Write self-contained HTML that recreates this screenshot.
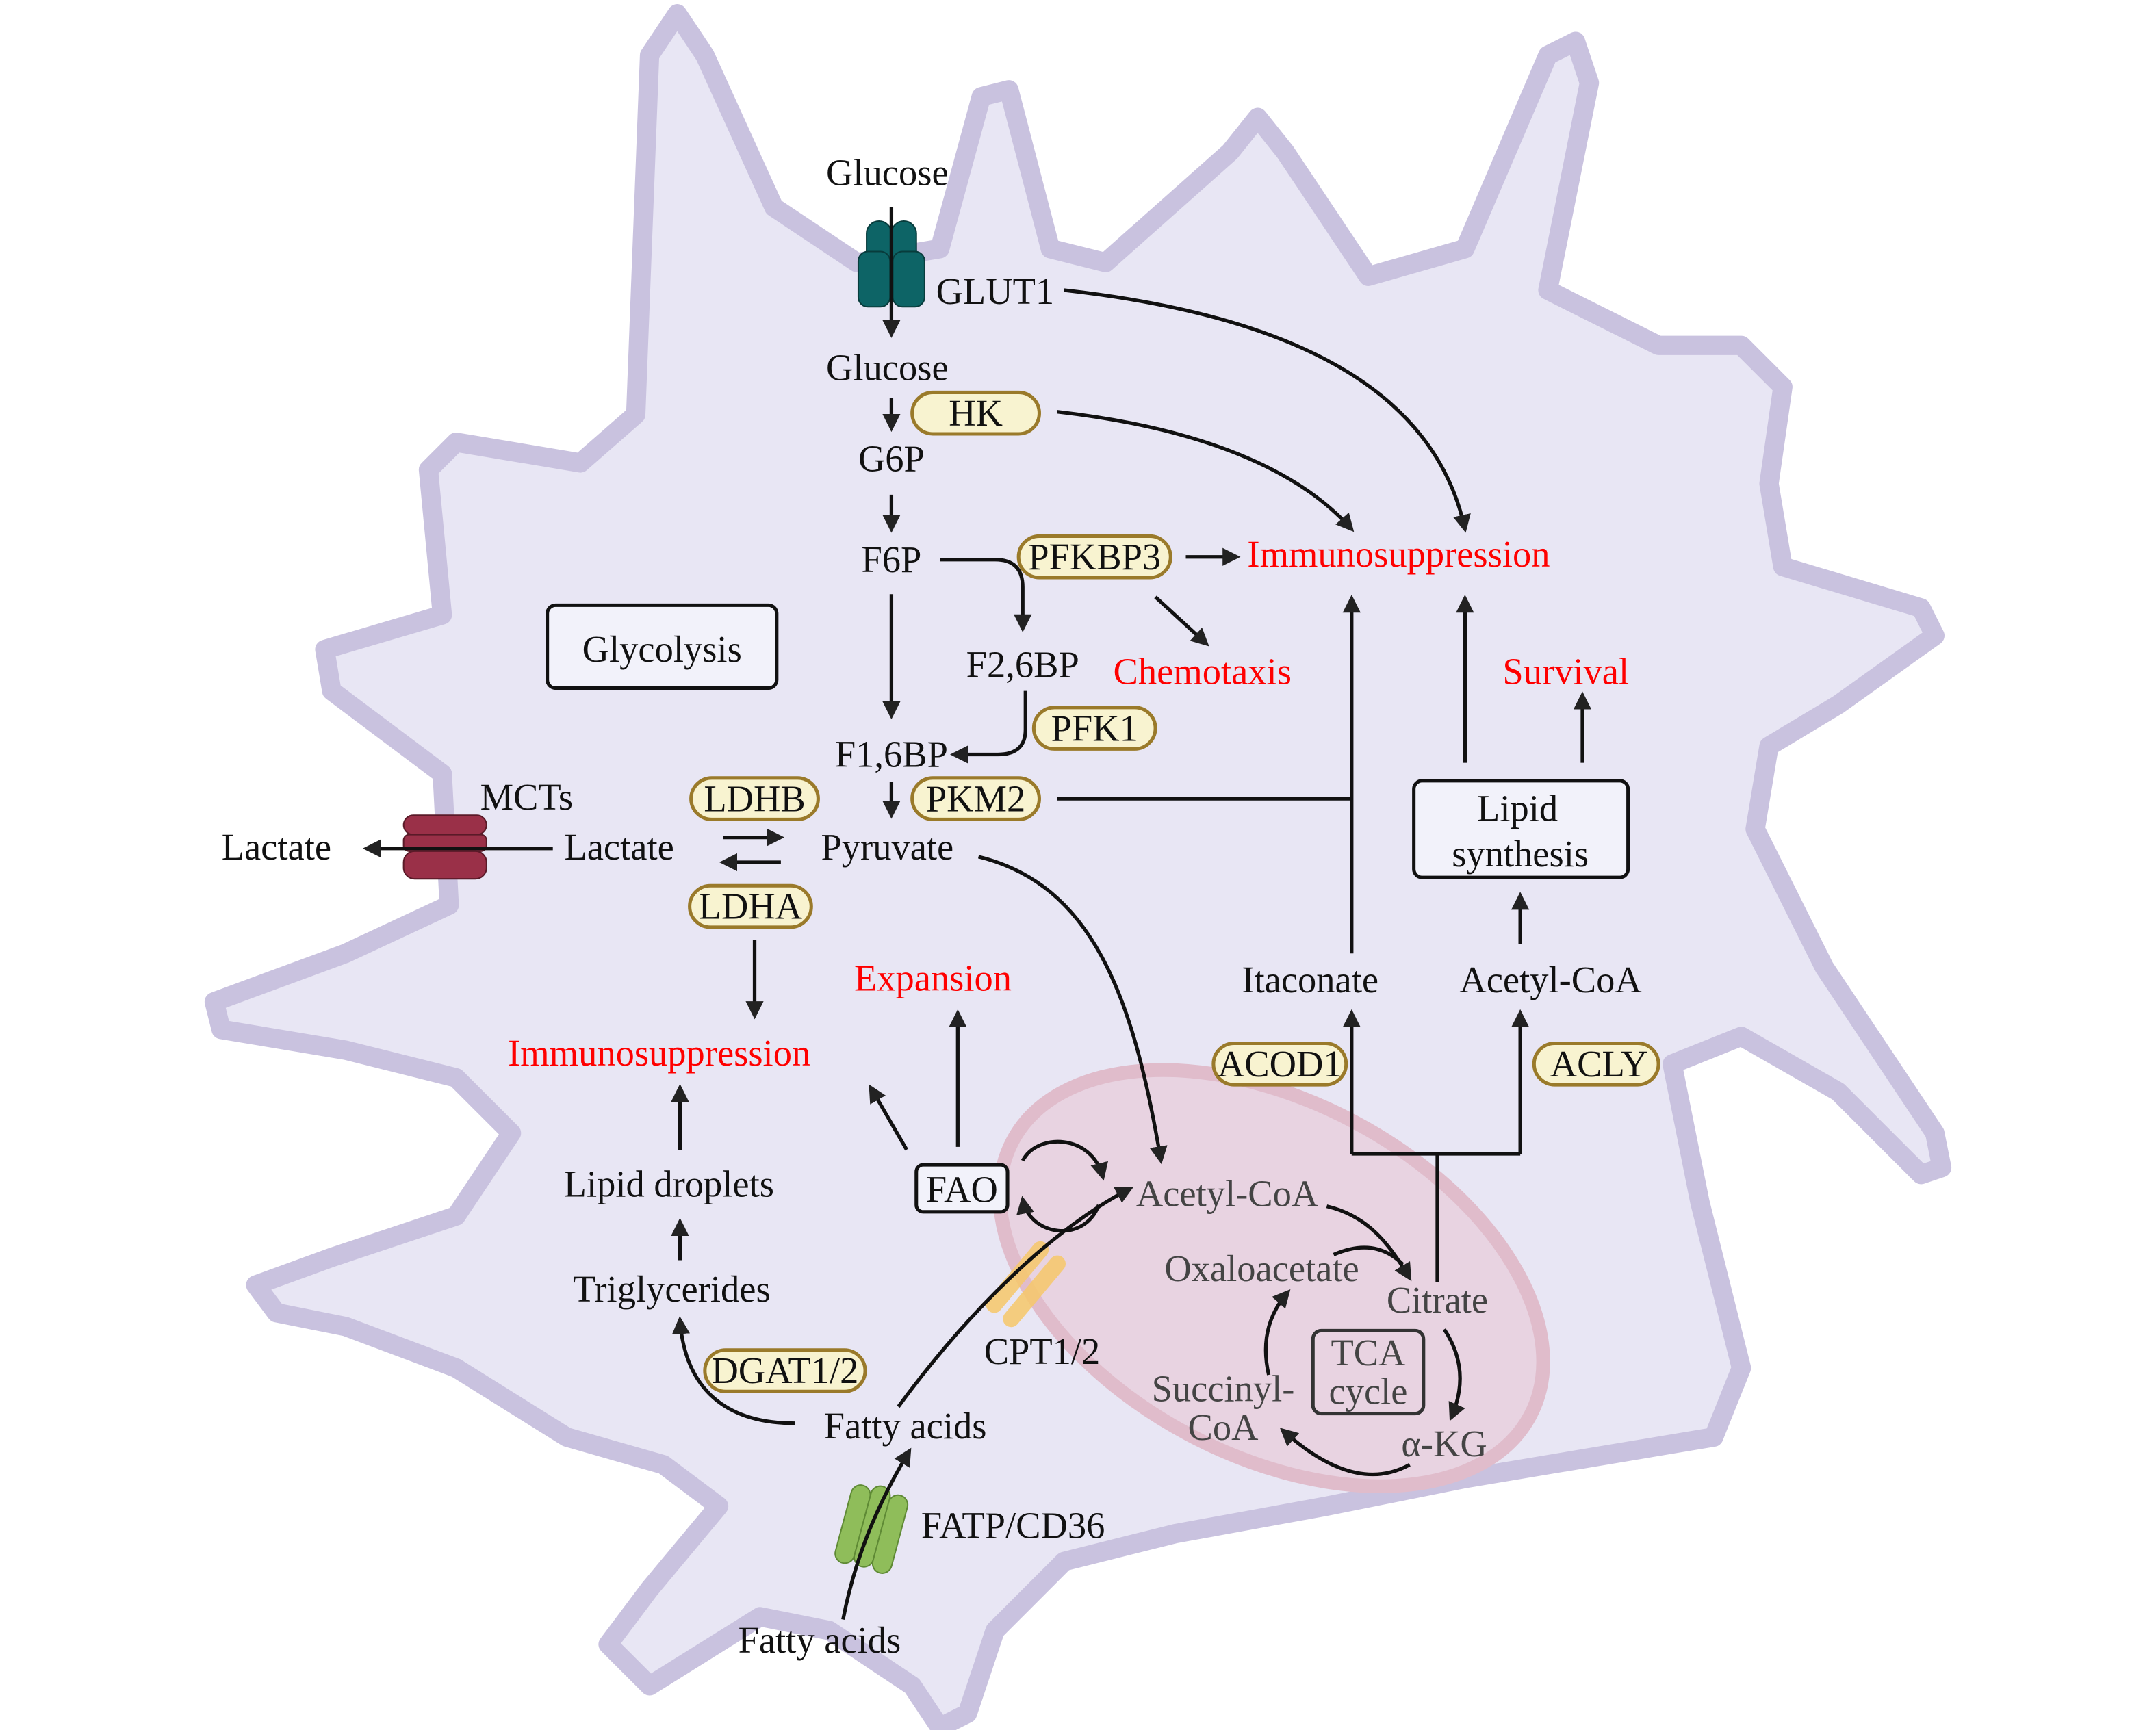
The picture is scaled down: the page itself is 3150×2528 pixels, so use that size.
<!DOCTYPE html>
<html><head><meta charset="utf-8"><style>
html,body{margin:0;padding:0;background:#fff}
svg{display:block}
text{font-family:"Liberation Serif",serif;font-size:27px;fill:#111}
.r{fill:#f00}
.m{fill:#444}
.c{text-anchor:middle}
</style></head><body>
<svg width="3150" height="2528" viewBox="0 0 1560 1252" xmlns="http://www.w3.org/2000/svg">
<defs>
<marker id="a" viewBox="0 0 10 10" refX="8" refY="5" markerWidth="5" markerHeight="5" orient="auto"><path d="M0,0 L10,5 L0,10 z" fill="#222"/></marker>
</defs>
<path d="M155,725 L250,690 L325,655 L320,560 L240,500 L235,470 L320,445 L310,340 L330,320 L420,335 L460,300 L470,40 L490,10 L510,40 L560,150 L620,190 L680,180 L710,70 L730,65 L760,180 L800,190 L890,110 L910,85 L930,110 L990,200 L1060,180 L1120,40 L1140,30 L1150,60 L1120,210 L1200,250 L1260,250 L1290,280 L1280,350 L1290,410 L1390,440 L1400,460 L1330,510 L1280,540 L1270,600 L1320,700 L1400,820 L1405,845 L1390,850 L1330,790 L1260,750 L1210,770 L1230,870 L1260,990 L1240,1040 L1180,1050 L1060,1070 L960,1090 L850,1110 L770,1130 L720,1180 L700,1240 L680,1250 L660,1220 L600,1180 L550,1170 L470,1220 L440,1190 L470,1150 L520,1090 L480,1060 L410,1040 L330,990 L250,960 L200,950 L185,930 L240,910 L330,880 L370,820 L330,780 L250,760 L160,745 Z" fill="#e8e6f4" stroke="#c9c2df" stroke-width="14" stroke-linejoin="round"/>
<ellipse cx="920" cy="925" rx="212" ry="128" transform="rotate(28 920 925)" fill="#e8cbd8" fill-opacity="0.7" stroke="#e0bccb" stroke-width="10"/>

<!-- transporters -->
<g fill="#0d6466" stroke="#083c3c" stroke-width="1">
<rect x="627" y="160" width="18" height="38" rx="9"/><rect x="645" y="160" width="18" height="38" rx="9"/>
<rect x="621" y="182" width="23" height="40" rx="7"/><rect x="646" y="182" width="23" height="40" rx="7"/>
</g>
<g fill="#9a3048" stroke="#5a1a28" stroke-width="1">
<rect x="292" y="590" width="60" height="14" rx="7"/><rect x="292" y="604" width="60" height="12" rx="4"/><rect x="292" y="616" width="60" height="20" rx="8"/>
</g>
<g fill="#f7c86a" opacity="0.85" transform="rotate(40 743 930)">
<rect x="728" y="898" width="12" height="64" rx="6"/><rect x="744" y="898" width="12" height="64" rx="6"/>
</g>
<g fill="#8fbd5a" stroke="#5f8a35" stroke-width="1" transform="rotate(15 632 1105)">
<rect x="610" y="1078" width="14" height="58" rx="7"/><rect x="624" y="1075" width="14" height="60" rx="7"/><rect x="638" y="1078" width="14" height="58" rx="7"/>
</g>

<g fill="none" stroke="#111" stroke-width="2.6" marker-end="url(#a)">
<path d="M645,150 L645,242"/>
<path d="M770,210 C950,230 1040,290 1060,383"/>
<path d="M645,288 L645,310"/>
<path d="M765,298 C870,310 940,340 978,383"/>
<path d="M645,358 L645,383"/>
<path d="M645,430 L645,518"/>
<path d="M680,405 L720,405 Q740,405 740,425 L740,455"/>
<path d="M858,403 L895,403"/>
<path d="M836,432 L873,466"/>
<path d="M742,500 L742,528 Q742,546 722,546 L690,546"/>
<path d="M645,566 L645,590"/>
<path d="M978,690 L978,433"/>
<path d="M523,606 L565,606"/>
<path d="M565,624 L523,624"/>
<path d="M400,614 L265,614"/>
<path d="M546,680 L546,735"/>
<path d="M708,620 C790,640 820,720 840,840"/>
<path d="M693,830 L693,733"/>
<path d="M656,832 L630,787"/>
<path d="M960,873 C990,880 1005,900 1020,925"/>
<path d="M1045,962 Q1065,992 1050,1026"/>
<path d="M1020,1060 Q980,1082 928,1035"/>
<path d="M918,995 Q910,960 932,935"/>
<path d="M978,835 L978,733"/>
<path d="M1100,835 L1100,733"/>
<path d="M1100,683 L1100,648"/>
<path d="M1060,552 L1060,433"/>
<path d="M1145,552 L1145,503"/>
<path d="M650,1018 C700,950 760,890 818,860"/>
<path d="M575,1030 C520,1030 495,1000 492,955"/>
<path d="M492,912 L492,884"/>
<path d="M492,832 L492,787"/>
<path d="M610,1172 C620,1120 640,1080 658,1050"/>
<path d="M740,840 C750,820 790,820 798,852"/>
<path d="M795,872 C785,900 745,895 740,868"/>
</g>
<g fill="none" stroke="#111" stroke-width="2.6">
<path d="M765,578 L978,578"/>
<path d="M965,908 Q995,895 1015,915"/>
<path d="M1040,928 L1040,835 M978,835 L1100,835"/>
</g>

<!-- boxes -->
<rect x="396" y="438" width="166" height="60" rx="6" fill="#f2f2fa" stroke="#111" stroke-width="2.5"/>
<rect x="1023" y="565" width="155" height="70" rx="6" fill="#f2f2fa" stroke="#111" stroke-width="2.5"/>
<rect x="663" y="843" width="66" height="34" rx="5" fill="#f2f2fa" stroke="#111" stroke-width="2.5"/>
<rect x="950" y="963" width="80" height="60" rx="6" fill="none" stroke="#333" stroke-width="2.5"/>

<!-- pills -->
<g fill="#f8f3d0" stroke="#9a7a2a" stroke-width="2.5">
<rect x="660" y="284" width="92" height="30" rx="15"/>
<rect x="737" y="388" width="110" height="30" rx="15"/>
<rect x="748" y="512" width="88" height="30" rx="15"/>
<rect x="660" y="563" width="92" height="30" rx="15"/>
<rect x="500" y="563" width="92" height="30" rx="15"/>
<rect x="499" y="641" width="88" height="30" rx="15"/>
<rect x="878" y="755" width="96" height="30" rx="15"/>
<rect x="1110" y="755" width="90" height="30" rx="15"/>
<rect x="510" y="977" width="116" height="30" rx="15"/>
</g>

<g class="c">
<text x="642" y="134" class="c">Glucose</text>
<text x="720" y="220" class="c">GLUT1</text>
<text x="642" y="275" class="c">Glucose</text>
<text x="706" y="308" class="c">HK</text>
<text x="645" y="341" class="c">G6P</text>
<text x="645" y="414" class="c">F6P</text>
<text x="792" y="412" class="c">PFKBP3</text>
<text x="1012" y="410" class="c r">Immunosuppression</text>
<text x="870" y="495" class="c r">Chemotaxis</text>
<text x="740" y="490" class="c">F2,6BP</text>
<text x="792" y="536" class="c">PFK1</text>
<text x="479" y="479" class="c">Glycolysis</text>
<text x="645" y="555" class="c">F1,6BP</text>
<text x="706" y="587" class="c">PKM2</text>
<text x="546" y="587" class="c">LDHB</text>
<text x="543" y="665" class="c">LDHA</text>
<text x="642" y="622" class="c">Pyruvate</text>
<text x="448" y="622" class="c">Lactate</text>
<text x="381" y="586" class="c">MCTs</text>
<text x="200" y="622" class="c">Lactate</text>
<text x="477" y="771" class="c r">Immunosuppression</text>
<text x="675" y="717" class="c r">Expansion</text>
<text x="696" y="870" class="c">FAO</text>
<text x="888" y="873" class="c m">Acetyl-CoA</text>
<text x="913" y="927" class="c m">Oxaloacetate</text>
<text x="1040" y="950" class="c m">Citrate</text>
<text x="990" y="988" class="c m">TCA</text>
<text x="990" y="1016" class="c m">cycle</text>
<text x="1045" y="1054" class="c m">α-KG</text>
<text x="885" y="1014" class="c m">Succinyl-</text>
<text x="885" y="1042" class="c m">CoA</text>
<text x="948" y="718" class="c">Itaconate</text>
<text x="1122" y="718" class="c">Acetyl-CoA</text>
<text x="926" y="779" class="c">ACOD1</text>
<text x="1157" y="779" class="c">ACLY</text>
<text x="1098" y="594" class="c">Lipid</text>
<text x="1100" y="627" class="c">synthesis</text>
<text x="1133" y="495" class="c r">Survival</text>
<text x="754" y="987" class="c">CPT1/2</text>
<text x="655" y="1041" class="c">Fatty acids</text>
<text x="568" y="1001" class="c">DGAT1/2</text>
<text x="486" y="942" class="c">Triglycerides</text>
<text x="484" y="866" class="c">Lipid droplets</text>
<text x="733" y="1113" class="c">FATP/CD36</text>
<text x="593" y="1196" class="c">Fatty acids</text>
</g>
</svg>
</body></html>
